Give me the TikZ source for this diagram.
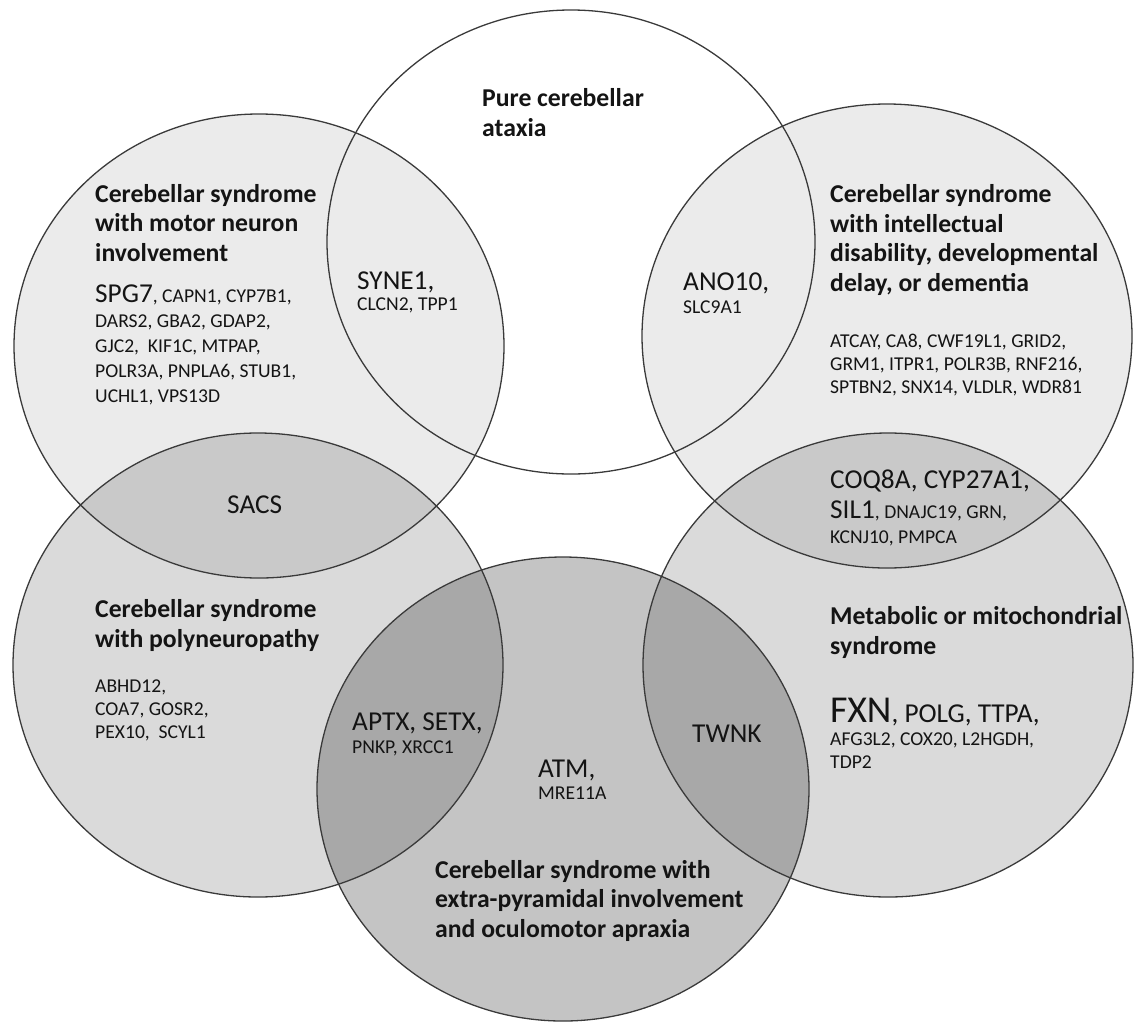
\documentclass[tikz,border=0pt]{standalone}
\usepackage{fontspec}
\setmainfont{Carlito}
\usepackage{tikz}
\definecolor{vnink}{HTML}{141414}
\definecolor{vnedge}{HTML}{3A3A3A}
\tikzset{
  ring/.style={draw=vnedge,line width=1.3pt},
  shade1/.style={fill=black,fill opacity=0.08},
  shade2/.style={fill=black,fill opacity=0.145},
  shade3/.style={fill=black,fill opacity=0.23},
  heading/.style={anchor=base west,align=left,inner sep=0pt,text=vnink,font=\fontsize{25.7}{29.5}\selectfont\bfseries},
  genes/.style={anchor=base west,align=left,inner sep=0pt,text=vnink,font=\fontsize{19.6}{23}\selectfont},
}
\newcommand{\biggene}[1]{{\fontsize{27.3}{30}\selectfont #1}}
\begin{document}
\begin{tikzpicture}[x=1pt,y=1pt]
  \useasboundingbox (0,0) rectangle (1134,-1021);
  % grey discs, lighter at the top
  \fill[shade1] (259,-346) ellipse (245 and 232);
  \fill[shade1] (887,-336) ellipse (245 and 232);
  \fill[shade2] (258,-665) ellipse (245 and 232);
  \fill[shade2] (888,-665) ellipse (245 and 232);
  \fill[shade3] (563,-789) ellipse (246 and 232);
  % outlines
  \draw[ring] (571,-242) ellipse (244 and 232);
  \draw[ring] (259,-346) ellipse (245 and 232);
  \draw[ring] (887,-336) ellipse (245 and 232);
  \draw[ring] (258,-665) ellipse (245 and 232);
  \draw[ring] (888,-665) ellipse (245 and 232);
  \draw[ring] (563,-789) ellipse (246 and 232);

  % group titles (anchored on their last line)
  \node[heading] (pure) at (482,-136) {Pure cerebellar\\ataxia};
  \node[heading] (motor) at (95,-261) {Cerebellar syndrome\\with motor neuron\\involvement};
  \node[heading] (intel) at (830,-291) {Cerebellar syndrome\\with intellectual\\disability, developmental\\delay, or dementia};
  \node[heading] (poly) at (95,-647) {Cerebellar syndrome\\with polyneuropathy};
  \node[heading] (meta) at (830,-654) {Metabolic or mitochondrial\\syndrome};
  \node[heading] (extra) at (435,-937) {Cerebellar syndrome with\\extra-pyramidal involvement\\and oculomotor apraxia};

  % gene lists
  \node[genes,font=\fontsize{19.6}{25}\selectfont] (motorgenes) at (95,-402) {\biggene{SPG7}, CAPN1, CYP7B1,\\DARS2, GBA2, GDAP2,\\GJC2,\ \ KIF1C, MTPAP,\\POLR3A, PNPLA6, STUB1,\\UCHL1, VPS13D};
  \node[genes] (intelgenes) at (830,-393) {ATCAY, CA8, CWF19L1, GRID2,\\GRM1, ITPR1, POLR3B, RNF216,\\SPTBN2, SNX14, VLDLR, WDR81};
  \node[genes] (polygenes) at (95,-738) {ABHD12,\\COA7, GOSR2,\\PEX10,\ \ SCYL1};
  \node[genes] (metagenes) at (830,-768) {{\fontsize{38}{40}\selectfont FXN}\biggene{, POLG, TTPA,}\\AFG3L2, COX20, L2HGDH,\\TDP2};

  % overlaps
  \node[genes,font=\fontsize{19.6}{21}\selectfont] (syne) at (357,-310) {\biggene{SYNE1,}\\CLCN2, TPP1};
  \node[genes] (ano) at (683,-313) {\biggene{ANO10,}\\SLC9A1};
  \node[genes] (sacs) at (227,-513) {\biggene{SACS}};
  \node[genes,font=\fontsize{19.6}{25}\selectfont] (coq) at (830,-543) {\biggene{COQ8A, CYP27A1,}\\[5pt]\biggene{SIL1}, DNAJC19, GRN,\\KCNJ10, PMPCA};
  \node[genes] (aptx) at (352,-753) {\biggene{APTX, SETX,}\\PNKP, XRCC1};
  \node[genes] (twnk) at (692,-742) {\biggene{TWNK}};
  \node[genes,font=\fontsize{19.6}{22}\selectfont] (atm) at (538,-799) {\biggene{ATM,}\\MRE11A};
\end{tikzpicture}
\end{document}
